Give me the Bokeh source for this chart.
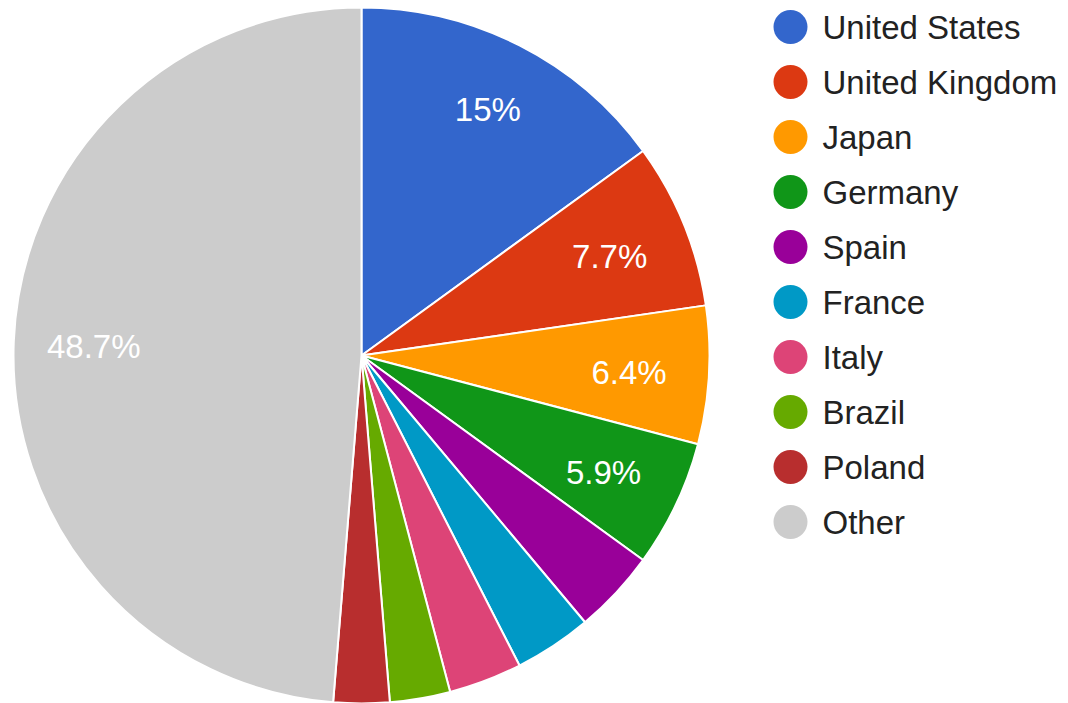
import math
from bokeh.plotting import figure
from bokeh.models import Range1d, ColumnDataSource
from bokeh.core.properties import value
from bokeh.embed import file_html
from bokeh.resources import INLINE

countries = ["United States", "United Kingdom", "Japan", "Germany", "Spain",
             "France", "Italy", "Brazil", "Poland", "Other"]
shares = [15.0, 7.7, 6.4, 5.9, 3.9, 3.6, 3.4, 2.8, 2.6, 48.7]
colors = ["#3366cc", "#dc3912", "#ff9900", "#109618", "#990099",
          "#0099c6", "#dd4477", "#66aa00", "#b82e2e", "#cccccc"]

W, H = 1068, 703
FONT = "Liberation Sans"
cx, cy, R = 361, H - 355, 348

p = figure(width=W, height=H, output_backend="svg", toolbar_location=None,
           x_range=Range1d(0, W), y_range=Range1d(0, H), min_border=0)
p.axis.visible = False
p.grid.visible = False
p.outline_line_color = None
p.background_fill_color = "white"
p.border_fill_color = "white"

total = sum(shares)
starts, ends, mids = [], [], []
acc = 0.0
for s in shares:
    t0 = acc / total * 2 * math.pi
    acc += s
    t1 = acc / total * 2 * math.pi
    starts.append(math.pi / 2 - t1)
    ends.append(math.pi / 2 - t0)
    mids.append((t0 + t1) / 2)

src = ColumnDataSource(dict(start=starts, end=ends, color=colors))
p.wedge(x=cx, y=cy, radius=R, start_angle="start", end_angle="end",
        fill_color="color", line_color="white", line_width=2, source=src)

# slice labels
lx, ly, lt = [], [], []
for s, m in zip(shares, mids):
    if s >= 5:
        rr = R * (0.8 if 10 < s < 20 else 0.77)
        lx.append(cx + rr * math.sin(m))
        ly.append(cy + rr * math.cos(m) - 2)
        txt = ("%.1f" % s).rstrip("0").rstrip(".") + "%"
        lt.append(txt)
p.text(x=lx, y=ly, text=lt, text_color="white", text_font=value(FONT),
       text_font_size="33px", text_align="center", text_baseline="middle")

# legend
n = len(countries)
gy = [H - (26.5 + 55.0 * i) for i in range(n)]
p.scatter(x=[790] * n, y=gy, size=34, fill_color=colors, line_color=None)
p.text(x=[822] * n, y=gy, text=countries, text_color="#222222",
       text_font=value(FONT), text_font_size="33px", text_align="left",
       text_baseline="middle")

open("out.html", "w").write(file_html(p, INLINE))
